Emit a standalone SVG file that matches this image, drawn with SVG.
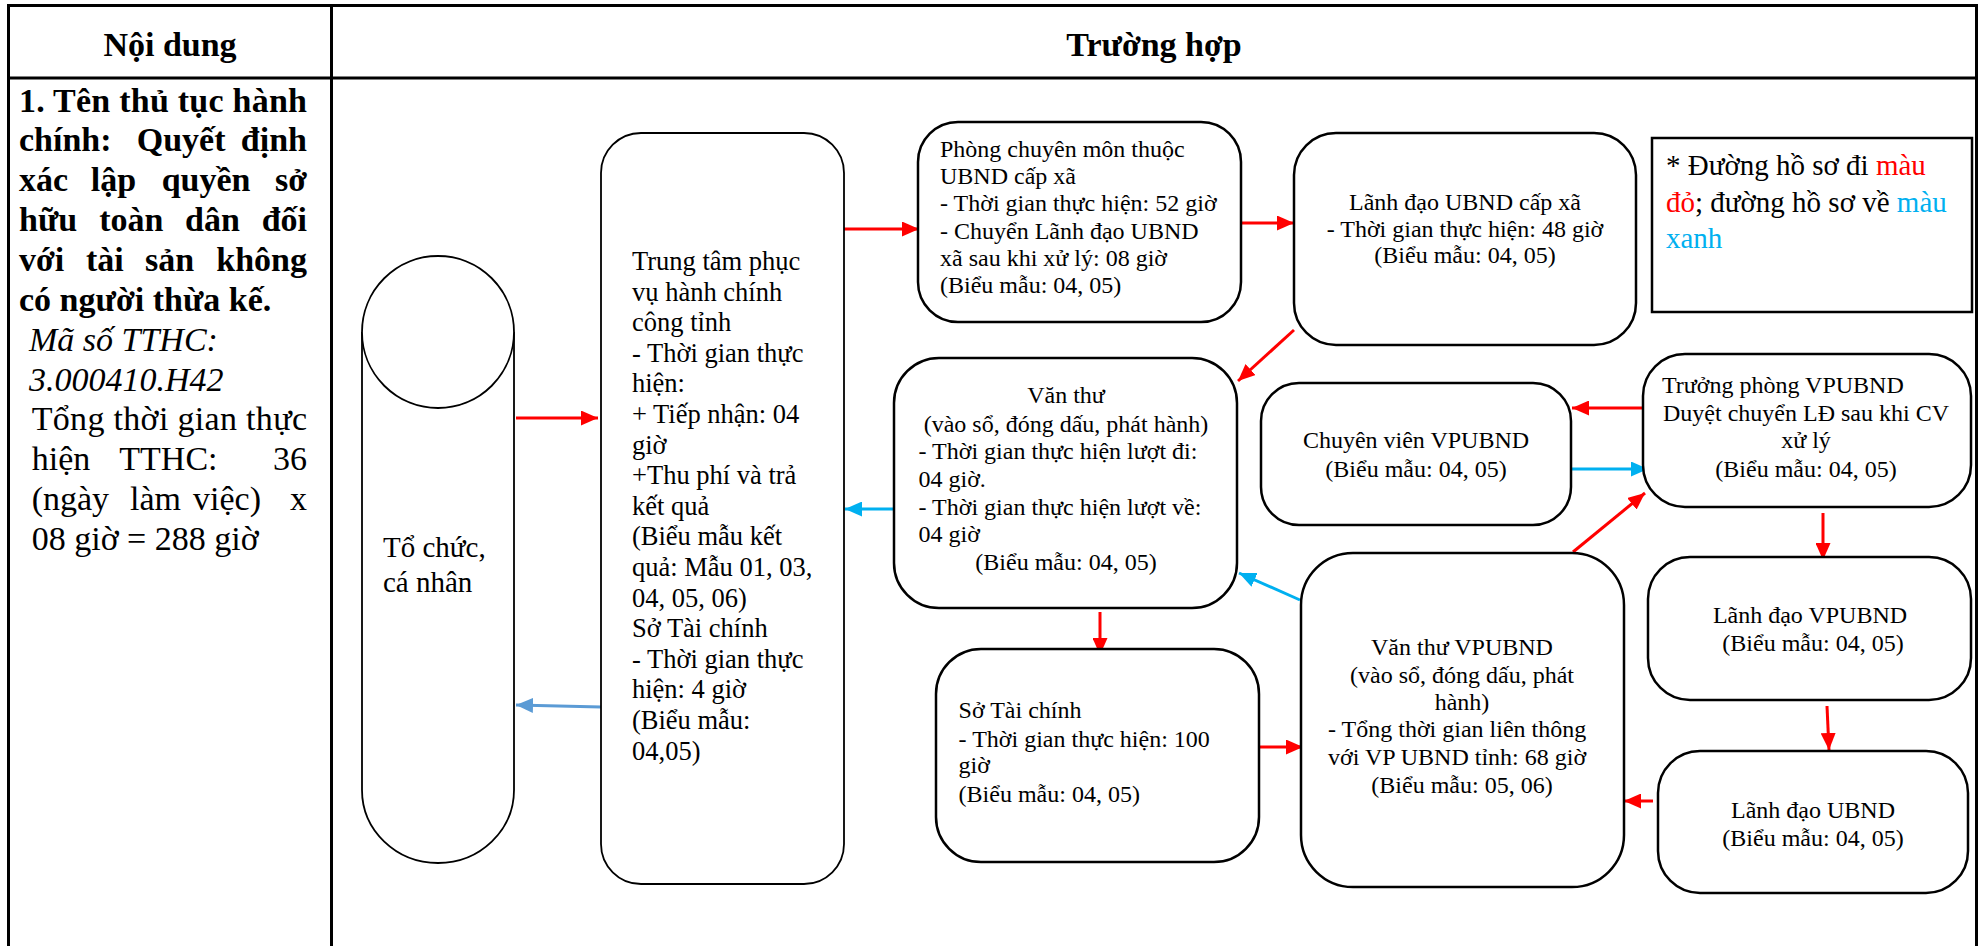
<svg xmlns="http://www.w3.org/2000/svg" width="1986" height="946" viewBox="0 0 1986 946">
<style>
text{font-family:"Liberation Serif","Times New Roman",serif;fill:#000}
.h{font-size:34px;font-weight:bold}
.lc{font-size:34px}
.t24{font-size:24px}
.t26{font-size:26.5px}
.t29{font-size:29px}
.c{text-anchor:middle}
.e{text-anchor:end}
.bx{fill:#fff;stroke:#000;stroke-width:2.5}
.bt{fill:#fff;stroke:#000;stroke-width:1.8}
.tb{fill:none;stroke:#000;stroke-width:3}
.r{fill:none;stroke:#f00;stroke-width:3;marker-end:url(#ar)}
.b{fill:none;stroke:#00b0f0;stroke-width:3;marker-end:url(#ab)}
.sb{fill:none;stroke:#5b9bd5;stroke-width:3;marker-end:url(#as)}
.red{fill:#f00}
.blue{fill:#00b0f0}
</style>
<defs>
<marker id="ar" markerUnits="userSpaceOnUse" markerWidth="17" markerHeight="15" refX="17" refY="7.5" orient="auto"><path d="M0,0 L17,7.5 L0,15 z" fill="#f00"/></marker>
<marker id="ab" markerUnits="userSpaceOnUse" markerWidth="17" markerHeight="15" refX="17" refY="7.5" orient="auto"><path d="M0,0 L17,7.5 L0,15 z" fill="#00b0f0"/></marker>
<marker id="as" markerUnits="userSpaceOnUse" markerWidth="17" markerHeight="15" refX="17" refY="7.5" orient="auto"><path d="M0,0 L17,7.5 L0,15 z" fill="#5b9bd5"/></marker>
</defs>
<rect width="1986" height="946" fill="#fff"/>
<g id="table">
<path class="tb" d="M7,5.5 H1978 M8.5,4 V946 M1976.5,4 V946 M331.5,4 V946 M7,78 H1978"/>
<text class="h c" x="170" y="56">Nội dung</text>
<text class="h c" x="1154" y="56">Trường hợp</text>
</g>
<g id="content">
<text class="h" x="19" y="111.5" textLength="288" lengthAdjust="spacing">1. Tên thủ tục hành</text>
<text class="h" y="151.4"><tspan x="19">chính:</tspan><tspan x="136.7">Quyết</tspan><tspan class="e" x="307">định</tspan></text>
<text class="h" y="191.2"><tspan x="19">xác</tspan><tspan x="90.7">lập</tspan><tspan x="161.7">quyền</tspan><tspan class="e" x="307">sở</tspan></text>
<text class="h" y="231.1"><tspan x="19">hữu</tspan><tspan x="99.3">toàn</tspan><tspan x="185">dân</tspan><tspan class="e" x="307">đối</tspan></text>
<text class="h" y="270.9"><tspan x="19">với</tspan><tspan x="86">tài</tspan><tspan x="145">sản</tspan><tspan class="e" x="307">không</tspan></text>
<text class="h" x="19" y="310.8">có người thừa kế.</text>
<text class="lc" x="29" y="350.6" font-style="italic">Mã số TTHC:</text>
<text class="lc" x="29" y="390.5" font-style="italic">3.000410.H42</text>
<text class="lc" x="31.7" y="430.3" textLength="275.3" lengthAdjust="spacing">Tổng thời gian thực</text>
<text class="lc" y="470.2"><tspan x="31.7">hiện</tspan><tspan x="119.3">TTHC:</tspan><tspan class="e" x="307">36</tspan></text>
<text class="lc" y="510"><tspan x="31.7">(ngày</tspan><tspan x="130">làm</tspan><tspan x="193">việc)</tspan><tspan class="e" x="307">x</tspan></text>
<text class="lc" x="31.7" y="549.9">08 giờ = 288 giờ</text>
</g>
<g id="connectors">
<path class="r" d="M516,418 L598,418"/>
<path class="sb" d="M601,707 L516,705"/>
<path class="r" d="M844,229 L919,229"/>
<path class="b" d="M894,509 L845,509"/>
<path class="r" d="M1242,223 L1294,223"/>
<path class="r" d="M1294,330 L1238,381"/>
<path class="r" d="M1100,612 L1100,655"/>
<path class="r" d="M1259,747 L1303,747"/>
<path class="b" d="M1300,600 L1239,573"/>
<path class="r" d="M1573,552 L1645,493"/>
<path class="r" d="M1642,408 L1572,408"/>
<path class="b" d="M1571,469 L1648,469"/>
<path class="r" d="M1823,513 L1823,560"/>
<path class="r" d="M1827,706 L1829,750"/>
<path class="r" d="M1653,801 L1624,801"/>
</g>
<g id="to-chuc">
<path class="bt" d="M362,332 L362,790 A76,73 0 0 0 514,790 L514,332"/>
<ellipse class="bt" cx="438" cy="332" rx="76" ry="76"/>
<text class="t29" x="383" y="557">Tổ chức,</text>
<text class="t29" x="383" y="592">cá nhân</text>
</g>
<g id="trung-tam">
<rect class="bt" x="601" y="133" width="243" height="751" rx="40"/>
<text class="t26" x="632" y="270">Trung tâm phục</text>
<text class="t26" x="632" y="300.6">vụ hành chính</text>
<text class="t26" x="632" y="331.2">công tỉnh</text>
<text class="t26" x="632" y="361.8">- Thời gian thực</text>
<text class="t26" x="632" y="392.4">hiện:</text>
<text class="t26" x="632" y="423">+ Tiếp nhận: 04</text>
<text class="t26" x="632" y="453.6">giờ</text>
<text class="t26" x="632" y="484.2">+Thu phí và trả</text>
<text class="t26" x="632" y="514.8">kết quả</text>
<text class="t26" x="632" y="545.4">(Biểu mẫu kết</text>
<text class="t26" x="632" y="576">quả: Mẫu 01, 03,</text>
<text class="t26" x="632" y="606.6">04, 05, 06)</text>
<text class="t26" x="632" y="637.2">Sở Tài chính</text>
<text class="t26" x="632" y="667.8">- Thời gian thực</text>
<text class="t26" x="632" y="698.4">hiện: 4 giờ</text>
<text class="t26" x="632" y="729">(Biểu mẫu:</text>
<text class="t26" x="632" y="759.6">04,05)</text>
</g>
<g id="phong-chuyen-mon">
<rect class="bx" x="918" y="122" width="323" height="200" rx="40"/>
<text class="t24" x="940" y="156.7">Phòng chuyên môn thuộc</text>
<text class="t24" x="940" y="184">UBND cấp xã</text>
<text class="t24" x="940" y="211.3">- Thời gian thực hiện: 52 giờ</text>
<text class="t24" x="940" y="238.6">- Chuyển Lãnh đạo UBND</text>
<text class="t24" x="940" y="266">xã sau khi xử lý: 08 giờ</text>
<text class="t24" x="940" y="293.3">(Biểu mẫu: 04, 05)</text>
</g>
<g id="lanh-dao-xa">
<rect class="bx" x="1294" y="133" width="342" height="212" rx="42"/>
<text class="t24 c" x="1465" y="210">Lãnh đạo UBND cấp xã</text>
<text class="t24 c" x="1465" y="236.7">- Thời gian thực hiện: 48 giờ</text>
<text class="t24 c" x="1465" y="263.3">(Biểu mẫu: 04, 05)</text>
</g>
<g id="legend">
<rect x="1652" y="138" width="320" height="174" fill="#fff" stroke="#000" stroke-width="2.5"/>
<text class="t29" x="1666" y="175">* Đường hồ sơ đi <tspan class="red">màu</tspan></text>
<text class="t29" x="1666" y="211.7"><tspan class="red">đỏ</tspan>; đường hồ sơ về <tspan class="blue">màu</tspan></text>
<text class="t29 blue" x="1666" y="248.4">xanh</text>
</g>
<g id="van-thu">
<rect class="bx" x="894" y="358" width="343" height="250" rx="45"/>
<text class="t24 c" x="1066" y="402.5">Văn thư</text>
<text class="t24 c" x="1066" y="431.5">(vào sổ, đóng dấu, phát hành)</text>
<text class="t24" x="918.5" y="458.5">- Thời gian thực hiện lượt đi:</text>
<text class="t24" x="918.5" y="486.5">04 giờ.</text>
<text class="t24" x="918.5" y="514.5">- Thời gian thực hiện lượt về:</text>
<text class="t24" x="918.5" y="541.7">04 giờ</text>
<text class="t24 c" x="1066" y="570">(Biểu mẫu: 04, 05)</text>
</g>
<g id="chuyen-vien">
<rect class="bx" x="1261" y="383" width="310" height="142" rx="38"/>
<text class="t24 c" x="1416" y="448">Chuyên viên VPUBND</text>
<text class="t24 c" x="1416" y="476.7">(Biểu mẫu: 04, 05)</text>
</g>
<g id="truong-phong">
<rect class="bx" x="1643" y="354" width="328" height="153" rx="42"/>
<text class="t24" x="1662" y="393">Trưởng phòng VPUBND</text>
<text class="t24 c" x="1806" y="420.7">Duyệt chuyển LĐ sau khi CV</text>
<text class="t24 c" x="1806" y="448">xử lý</text>
<text class="t24 c" x="1806" y="476.7">(Biểu mẫu: 04, 05)</text>
</g>
<g id="so-tai-chinh">
<rect class="bx" x="936" y="649" width="323" height="213" rx="45"/>
<text class="t24" x="958.6" y="718.3">Sở Tài chính</text>
<text class="t24" x="958.6" y="746.7">- Thời gian thực hiện: 100</text>
<text class="t24" x="958.6" y="773.3">giờ</text>
<text class="t24" x="958.6" y="801.7">(Biểu mẫu: 04, 05)</text>
</g>
<g id="van-thu-vpubnd">
<rect class="bx" x="1301" y="553" width="323" height="334" rx="52"/>
<text class="t24 c" x="1462" y="655">Văn thư VPUBND</text>
<text class="t24 c" x="1462" y="682.7">(vào sổ, đóng dấu, phát</text>
<text class="t24 c" x="1462" y="710">hành)</text>
<text class="t24" x="1328" y="737.3">- Tổng thời gian liên thông</text>
<text class="t24" x="1328" y="765">với VP UBND tỉnh: 68 giờ</text>
<text class="t24 c" x="1462" y="792.7">(Biểu mẫu: 05, 06)</text>
</g>
<g id="lanh-dao-vpubnd">
<rect class="bx" x="1648" y="557" width="323" height="143" rx="42"/>
<text class="t24 c" x="1810" y="623">Lãnh đạo VPUBND</text>
<text class="t24 c" x="1813" y="650.7">(Biểu mẫu: 04, 05)</text>
</g>
<g id="lanh-dao-ubnd">
<rect class="bx" x="1658" y="751" width="310" height="142" rx="42"/>
<text class="t24 c" x="1813" y="818">Lãnh đạo UBND</text>
<text class="t24 c" x="1813" y="845.5">(Biểu mẫu: 04, 05)</text>
</g>
</svg>
